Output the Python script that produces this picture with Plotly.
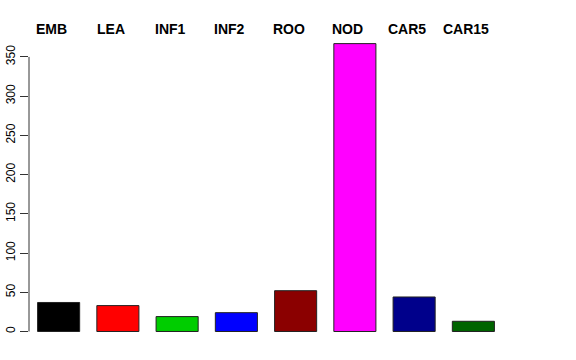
import plotly.graph_objects as go

categories = ["EMB", "LEA", "INF1", "INF2", "ROO", "NOD", "CAR5", "CAR15"]
values = [37, 33, 19, 24, 52, 367, 44, 13]
bar_colors = ["#000000", "#FF0000", "#00CD00", "#0000FF", "#8B0000", "#FF00FF", "#00008B", "#006400"]
y_ticks = [0, 50, 100, 150, 200, 250, 300, 350]

W, H = 576, 360
ml, mr, mt, mb = 29, 73, 32, 14

fig = go.Figure()
fig.add_trace(go.Bar(
    x=categories, y=values,
    marker=dict(color=bar_colors, line=dict(color="#222222", width=1)),
    width=0.71,
))

plot_h = H - mt - mb
for c in categories:
    fig.add_annotation(
        x=c, xref="x", y=(H - mb - 29) / plot_h, yref="paper",
        text="<b>%s</b>" % c, showarrow=False, xshift=-7,
        yanchor="middle", xanchor="center",
        font=dict(family="Liberation Sans, Arial, sans-serif", size=14, color="black"),
    )

# y axis line from first to last tick (R style)
fig.add_shape(type="line", xref="paper", x0=0, x1=0, yref="y",
              y0=y_ticks[0], y1=y_ticks[-1], line=dict(color="#333333", width=1))

fig.update_layout(
    width=W, height=H,
    margin=dict(l=ml, r=mr, t=mt, b=mb, pad=0, autoexpand=False),
    plot_bgcolor="white", paper_bgcolor="white",
    showlegend=False,
    font=dict(family="Liberation Sans, Arial, sans-serif", size=12, color="black"),
    xaxis=dict(range=[-0.5, 7.5], showticklabels=False, showgrid=False, automargin=False,
               zeroline=False, showline=False, ticks=""),
    yaxis=dict(range=[-18.5, 381.8], tickvals=y_ticks, ticktext=[str(v) for v in y_ticks],
               tickangle=-90, ticks="outside", ticklen=8, tickcolor="#333333", automargin=False,
               showgrid=False, zeroline=False, showline=False,
               tickfont=dict(size=12, color="black")),
)

fig.write_html("out.html")
